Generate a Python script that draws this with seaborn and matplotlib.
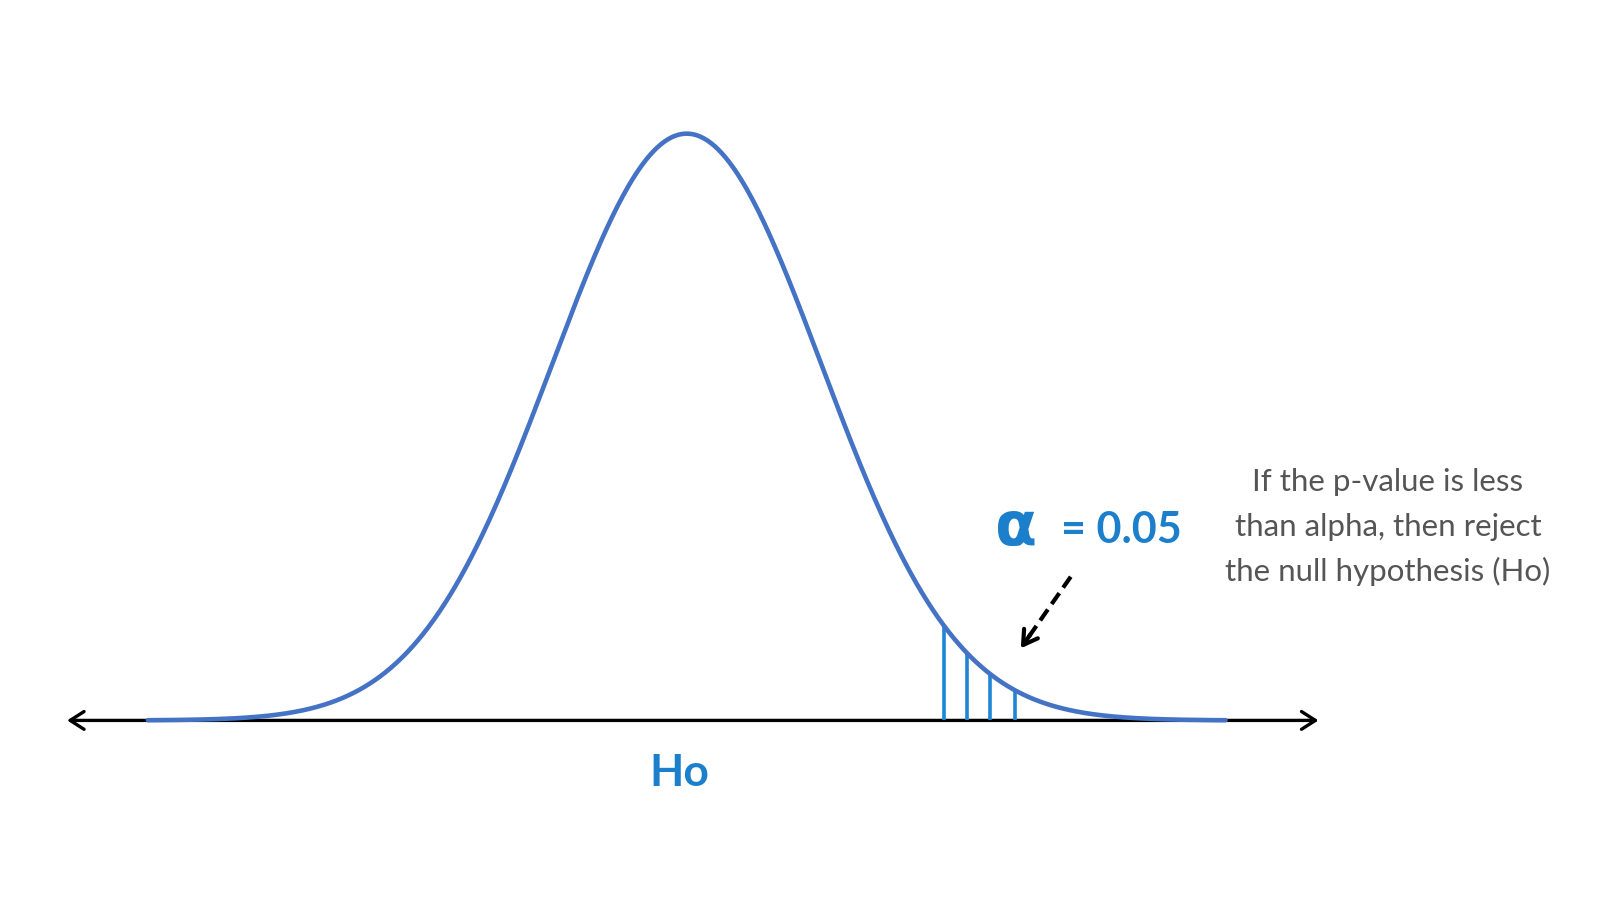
import numpy as np
import pandas as pd
import matplotlib
matplotlib.use('Agg')
import matplotlib.pyplot as plt
import seaborn as sns

# Null distribution (standard normal, in units of sigma)
mu = 0.0
sigma = 1.0
z_from, z_to = -4.0, 4.0

# Rejection region hatch positions (z)
hatch_z = [1.91, 2.08, 2.25, 2.44]

# Texts
alpha_symbol = "α"
alpha_value = "= 0.05"
h0_label = "Ho"
note_lines = ["If the p-value is less", "than alpha, then reject", "the null hypothesis (Ho)"]

CURVE_BLUE = "#4472C4"
TEXT_BLUE = "#1B7FCC"
NOTE_GREY = "#555555"


def normal_pdf(z):
    return np.exp(-0.5 * ((z - mu) / sigma) ** 2) / (sigma * np.sqrt(2 * np.pi))


sns.set_theme(style="white")
plt.rcParams['font.family'] = ['Lato', 'DejaVu Sans']

fig = plt.figure(figsize=(16, 9), dpi=100, facecolor="white")
ax = fig.add_axes([0, 0, 1, 1])
ax.set_axis_off()

# pixel -> data mapping chosen so the curve sits as in the reference
ax.set_xlim(-5.098, 6.780)
ax.set_ylim(-0.1221, 0.4898)

# Horizontal axis with arrows at both ends
ax.annotate("", xy=(4.69, 0), xytext=(-4.60, 0),
            arrowprops=dict(arrowstyle="<->, head_length=0.5, head_width=0.32",
                            color="black", lw=2.4, shrinkA=0, shrinkB=0,
                            mutation_scale=20))

# Hatch lines in the rejection region
hatch = np.array(hatch_z)
ax.vlines(hatch, 0, normal_pdf(hatch), color="#1F86D6", lw=2.6, zorder=3)

# Curve
z_grid = np.linspace(z_from, z_to, 600)
df = pd.DataFrame({"z": z_grid, "density": normal_pdf(z_grid)})
sns.lineplot(data=df, x="z", y="density", ax=ax, color=CURVE_BLUE, linewidth=3.3, zorder=4)


def fx(px):
    return px / 1600


def fy(py):
    return 1 - py / 900


# Dashed pointer arrow to the tail
x0, y0 = 2.851, 0.0977
x1, y1 = 2.480, 0.0490
ax.plot([x0, x1 + 0.04], [y0, y1 + 0.0053], color="black", lw=3.0, ls=(0, (3.2, 1.6)), zorder=5)
ax.annotate("", xy=(x1, y1), xytext=(x1 + 0.07, y1 + 0.0093),
            arrowprops=dict(arrowstyle="->, head_length=0.5, head_width=0.3",
                            color="black", lw=3.0, shrinkA=0, shrinkB=0, mutation_scale=20))

# Alpha label
ax.text(fx(995), fy(545), alpha_symbol, transform=ax.transAxes, ha="left", va="baseline",
        fontsize=44, fontweight="bold", color=TEXT_BLUE, family="DejaVu Sans")
ax.text(fx(1061), fy(543), alpha_value, transform=ax.transAxes, ha="left", va="baseline",
        fontsize=31, fontweight="bold", color=TEXT_BLUE)

# Ho label
ax.text(fx(679), fy(786), h0_label, transform=ax.transAxes, ha="center", va="baseline",
        fontsize=32, fontweight="bold", color=TEXT_BLUE)

# Note on the right
for i, line in enumerate(note_lines):
    ax.text(fx(1388), fy(491.5 + 44.7 * i), line, transform=ax.transAxes, ha="center",
            va="baseline", fontsize=22.5, color=NOTE_GREY)

plt.savefig("out.png", dpi=100, facecolor="white")
plt.close()
